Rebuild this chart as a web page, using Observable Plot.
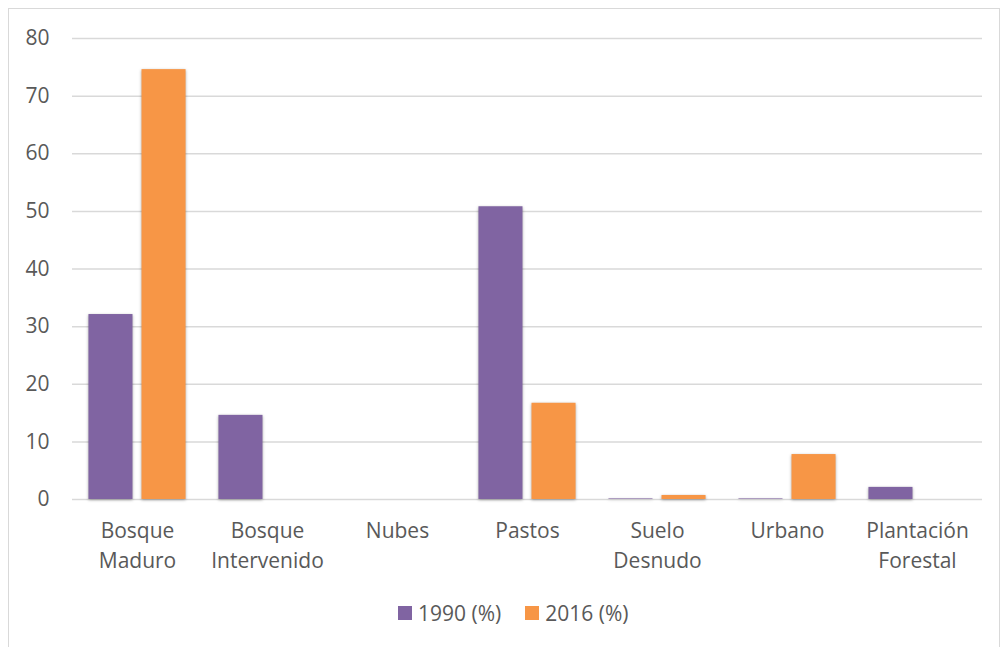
<!DOCTYPE html>
<html>
<head>
<meta charset="utf-8">
<script src="https://cdn.jsdelivr.net/npm/d3@7"></script>
<script src="https://cdn.jsdelivr.net/npm/@observablehq/plot@0.6"></script>
<style>
  html, body { margin: 0; padding: 0; background: #fff; }
  body { width: 1002px; height: 647px; position: relative; overflow: hidden; font-family: "Open Sans", sans-serif; }
  #frame { position: absolute; left: 8px; top: 8px; width: 992px; height: 660px; border: 1px solid #d9d9d9; box-sizing: border-box; }
  #chart { position: absolute; left: 0; top: 0; }
  #legend { position: absolute; left: 398px; top: 599px; display: flex; align-items: center; font-size: 21px; color: #595959; }
  .sw { width: 14px; height: 14px; display: inline-block; margin-right: 6px; }
  .item { display: flex; align-items: center; margin-right: 24px; }
  .bars rect { filter: drop-shadow(0px 1px 1.5px rgba(0,0,0,0.35)); }
</style>
</head>
<body>
<div id="frame"></div>
<div id="chart"></div>
<div id="legend"></div>
<script>
const categories = ["Bosque Maduro", "Bosque Intervenido", "Nubes", "Pastos", "Suelo Desnudo", "Urbano", "Plantación Forestal"];
const series = ["1990 (%)", "2016 (%)"];
const values1990 = [32.1, 14.6, 0, 50.8, 0.1, 0.1, 2.1];
const values2016 = [74.6, 0, 0, 16.7, 0.7, 7.8, 0];
const yTicks = [0, 10, 20, 30, 40, 50, 60, 70, 80];
const colors = ["#8064A2", "#F79646"];

const data = [];
categories.forEach((c, i) => {
  data.push({category: c, series: series[0], value: values1990[i]});
  data.push({category: c, series: series[1], value: values2016[i]});
});

const chart = Plot.plot({
  width: 1002,
  height: 580,
  marginLeft: 72,
  marginRight: 20,
  marginTop: 38,
  marginBottom: 81,
  style: {fontFamily: "'Open Sans', sans-serif", fontSize: "21px", color: "#595959", background: "transparent"},
  fx: {domain: categories, padding: 0, label: null, round: false},
  x: {domain: series, axis: null, paddingInner: 0.17, paddingOuter: 0.31, round: false},
  y: {domain: [0, 80], label: null},
  color: {domain: series, range: colors},
  marks: [
    Plot.gridY(yTicks, {stroke: "#d9d9d9", strokeOpacity: 1, strokeWidth: 1.5}),
    Plot.barY(data, {fx: "category", x: "series", y: "value", fill: "series", className: "bars"}),
    Plot.axisY(yTicks, {tickSize: 0, tickPadding: 23, label: null, fontSize: 21, fill: "#595959"}),
    Plot.axisFx({anchor: "bottom", tickSize: 0, tickPadding: 17, label: null, fontSize: 21, lineHeight: 1.43, fill: "#595959", tickFormat: d => d.replace(" ", "\n")})
  ]
});
document.getElementById("chart").appendChild(chart);

const legend = document.getElementById("legend");
series.forEach((s, i) => {
  const item = document.createElement("div");
  item.className = "item";
  const sw = document.createElement("span");
  sw.className = "sw";
  sw.style.background = colors[i];
  item.appendChild(sw);
  item.appendChild(document.createTextNode(s));
  legend.appendChild(item);
});
</script>
</body>
</html>
